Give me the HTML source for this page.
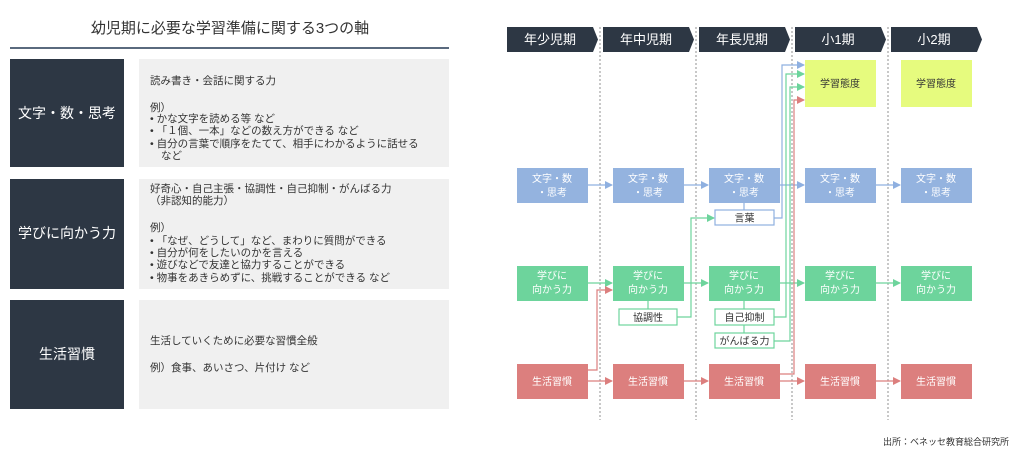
<!DOCTYPE html>
<html><head><meta charset="utf-8"><style>
html,body{margin:0;padding:0;background:#fff}
svg{display:block;font-family:"Liberation Sans","Noto Sans CJK JP",sans-serif}
</style></head><body>
<svg width="1024" height="454" viewBox="0 0 1024 454" xmlns="http://www.w3.org/2000/svg">
<defs>
<marker id="ab" markerWidth="8" markerHeight="8" refX="7" refY="4" orient="auto" markerUnits="userSpaceOnUse"><path d="M0,0 L8,4 L0,8z" fill="#8fb0e0"/></marker>
<marker id="ag" markerWidth="8" markerHeight="8" refX="7" refY="4" orient="auto" markerUnits="userSpaceOnUse"><path d="M0,0 L8,4 L0,8z" fill="#6dd49c"/></marker>
<marker id="ar" markerWidth="8" markerHeight="8" refX="7" refY="4" orient="auto" markerUnits="userSpaceOnUse"><path d="M0,0 L8,4 L0,8z" fill="#dc7f7e"/></marker>
</defs>
<text x="230" y="33" font-size="15" fill="#333" text-anchor="middle">幼児期に必要な学習準備に関する3つの軸</text>
<rect x="10" y="47" width="439" height="2" fill="#5a6a7e"/>
<g fill="#2d3744">
<rect x="10" y="59" width="114" height="108"/>
<rect x="10" y="179" width="114" height="110"/>
<rect x="10" y="300" width="114" height="109"/>
</g>
<g fill="#f0f0f0">
<rect x="139" y="59" width="310" height="108"/>
<rect x="139" y="179" width="310" height="110"/>
<rect x="139" y="300" width="310" height="109"/>
</g>
<g fill="#fff" font-size="14" text-anchor="middle">
<text x="67" y="118">文字・数・思考</text>
<text x="67" y="238">学びに向かう力</text>
<text x="67" y="359">生活習慣</text>
</g>
<g fill="#333" font-size="10.5">
<text x="150" y="84">読み書き・会話に関する力</text>
<text x="150" y="111">例）</text>
<text x="150" y="122">•  かな文字を読める等 など</text>
<text x="150" y="134">•  「１個、一本」などの数え方ができる など</text>
<text x="150" y="147">•  自分の言葉で順序をたてて、相手にわかるように話せる</text>
<text x="161" y="159">など</text>
<text x="150" y="192">好奇心・自己主張・協調性・自己抑制・がんばる力</text>
<text x="150" y="204">（非認知的能力）</text>
<text x="150" y="231">例）</text>
<text x="150" y="244">•  「なぜ、どうして」など、まわりに質問ができる</text>
<text x="150" y="256">•  自分が何をしたいのかを言える</text>
<text x="150" y="268">•  遊びなどで友達と協力することができる</text>
<text x="150" y="281">•  物事をあきらめずに、挑戦することができる など</text>
<text x="150" y="344">生活していくために必要な習慣全般</text>
<text x="150" y="371">例）食事、あいさつ、片付け など</text>
</g>
<g fill="#2d3744">
<path d="M507,27 H593 L598,39.5 L593,52 H507z"/>
<path d="M603,27 H689 L694,39.5 L689,52 H603z"/>
<path d="M699,27 H785 L790,39.5 L785,52 H699z"/>
<path d="M795,27 H881 L886,39.5 L881,52 H795z"/>
<path d="M891,27 H977 L982,39.5 L977,52 H891z"/>
</g>
<g fill="#fff" font-size="13" text-anchor="middle">
<text x="550" y="44">年少児期</text>
<text x="646" y="44">年中児期</text>
<text x="742" y="44">年長児期</text>
<text x="838" y="44">小1期</text>
<text x="934" y="44">小2期</text>
</g>
<g stroke="#777" stroke-width="0.8" stroke-dasharray="2,2">
<line x1="600" y1="27" x2="600" y2="420"/>
<line x1="696" y1="27" x2="696" y2="420"/>
<line x1="792" y1="27" x2="792" y2="420"/>
<line x1="888" y1="27" x2="888" y2="420"/>
</g>
<g fill="#e6fb7e"><rect x="805" y="60" width="71" height="47"/><rect x="901" y="60" width="71" height="47"/></g>
<g fill="#333" font-size="10" text-anchor="middle"><text x="840" y="87">学習態度</text><text x="936" y="87">学習態度</text></g>
<g fill="#94b3df">
<rect x="517" y="168" width="71" height="35"/><rect x="613" y="168" width="71" height="35"/><rect x="709" y="168" width="71" height="35"/><rect x="805" y="168" width="71" height="35"/><rect x="901" y="168" width="71" height="35"/>
</g>
<g fill="#6dd49c">
<rect x="517" y="266" width="71" height="35"/><rect x="613" y="266" width="71" height="35"/><rect x="709" y="266" width="71" height="35"/><rect x="805" y="266" width="71" height="35"/><rect x="901" y="266" width="71" height="35"/>
</g>
<g fill="#dc7f7e">
<rect x="517" y="364" width="71" height="35"/><rect x="613" y="364" width="71" height="35"/><rect x="709" y="364" width="71" height="35"/><rect x="805" y="364" width="71" height="35"/><rect x="901" y="364" width="71" height="35"/>
</g>
<g fill="#fff" font-size="10" text-anchor="middle">
<text x="552" y="182">文字・数</text><text x="552" y="196">・思考</text>
<text x="648" y="182">文字・数</text><text x="648" y="196">・思考</text>
<text x="744" y="182">文字・数</text><text x="744" y="196">・思考</text>
<text x="840" y="182">文字・数</text><text x="840" y="196">・思考</text>
<text x="936" y="182">文字・数</text><text x="936" y="196">・思考</text>
<text x="552" y="279">学びに</text><text x="552" y="293">向かう力</text>
<text x="648" y="279">学びに</text><text x="648" y="293">向かう力</text>
<text x="744" y="279">学びに</text><text x="744" y="293">向かう力</text>
<text x="840" y="279">学びに</text><text x="840" y="293">向かう力</text>
<text x="936" y="279">学びに</text><text x="936" y="293">向かう力</text>
<text x="552" y="385">生活習慣</text><text x="648" y="385">生活習慣</text><text x="744" y="385">生活習慣</text><text x="840" y="385">生活習慣</text><text x="936" y="385">生活習慣</text>
</g>
<g stroke="#8fb0e0" stroke-width="1.2" fill="none" marker-end="url(#ab)">
<line x1="588" y1="185" x2="612" y2="185"/><line x1="684" y1="185" x2="708" y2="185"/><line x1="780" y1="185" x2="804" y2="185"/><line x1="876" y1="185" x2="900" y2="185"/>
</g>
<g stroke="#6dd49c" stroke-width="1.2" fill="none" marker-end="url(#ag)">
<line x1="588" y1="283" x2="612" y2="283"/><line x1="684" y1="283" x2="708" y2="283"/><line x1="780" y1="283" x2="804" y2="283"/><line x1="876" y1="283" x2="900" y2="283"/>
</g>
<g stroke="#dc7f7e" stroke-width="1.2" fill="none" marker-end="url(#ar)">
<line x1="588" y1="381" x2="612" y2="381"/><line x1="684" y1="381" x2="708" y2="381"/><line x1="780" y1="381" x2="804" y2="381"/><line x1="876" y1="381" x2="900" y2="381"/>
</g>
<line x1="744" y1="203" x2="744" y2="210" stroke="#8fb0e0" stroke-width="1.2"/>
<rect x="715" y="210" width="59" height="15" fill="#fff" stroke="#8fb0e0" stroke-width="1.2"/>
<text x="744.5" y="221.5" font-size="10" fill="#333" text-anchor="middle">言葉</text>
<g stroke="#6dd49c" stroke-width="1.2">
<line x1="648" y1="301" x2="648" y2="309"/><line x1="744" y1="301" x2="744" y2="309"/><line x1="744" y1="325" x2="744" y2="333"/>
<rect x="619" y="309" width="58" height="16" fill="#fff"/>
<rect x="715" y="309" width="59" height="16" fill="#fff"/>
<rect x="715" y="333" width="59" height="15" fill="#fff"/>
</g>
<g font-size="10" fill="#333" text-anchor="middle">
<text x="648" y="321">協調性</text><text x="744.5" y="321">自己抑制</text><text x="744.5" y="344.5">がんばる力</text>
</g>
<polyline points="588,370 597,370 597,290 612,290" stroke="#dc7f7e" stroke-width="1.2" fill="none" marker-end="url(#ar)"/>
<polyline points="677,317 691,317 691,218 714,218" stroke="#6dd49c" stroke-width="1.2" fill="none" marker-end="url(#ag)"/>
<polyline points="774,218 782,218 782,65 804,65" stroke="#8fb0e0" stroke-width="1.2" fill="none" marker-end="url(#ab)"/>
<polyline points="774,317 786,317 786,74 804,74" stroke="#6dd49c" stroke-width="1.2" fill="none" marker-end="url(#ag)"/>
<polyline points="774,341 790,341 790,87 804,87" stroke="#6dd49c" stroke-width="1.2" fill="none" marker-end="url(#ag)"/>
<polyline points="780,374 794,374 794,100 804,100" stroke="#dc7f7e" stroke-width="1.2" fill="none" marker-end="url(#ar)"/>
<text x="1009" y="445" font-size="9" fill="#333" text-anchor="end">出所：ベネッセ教育総合研究所</text>
</svg>
</body></html>
